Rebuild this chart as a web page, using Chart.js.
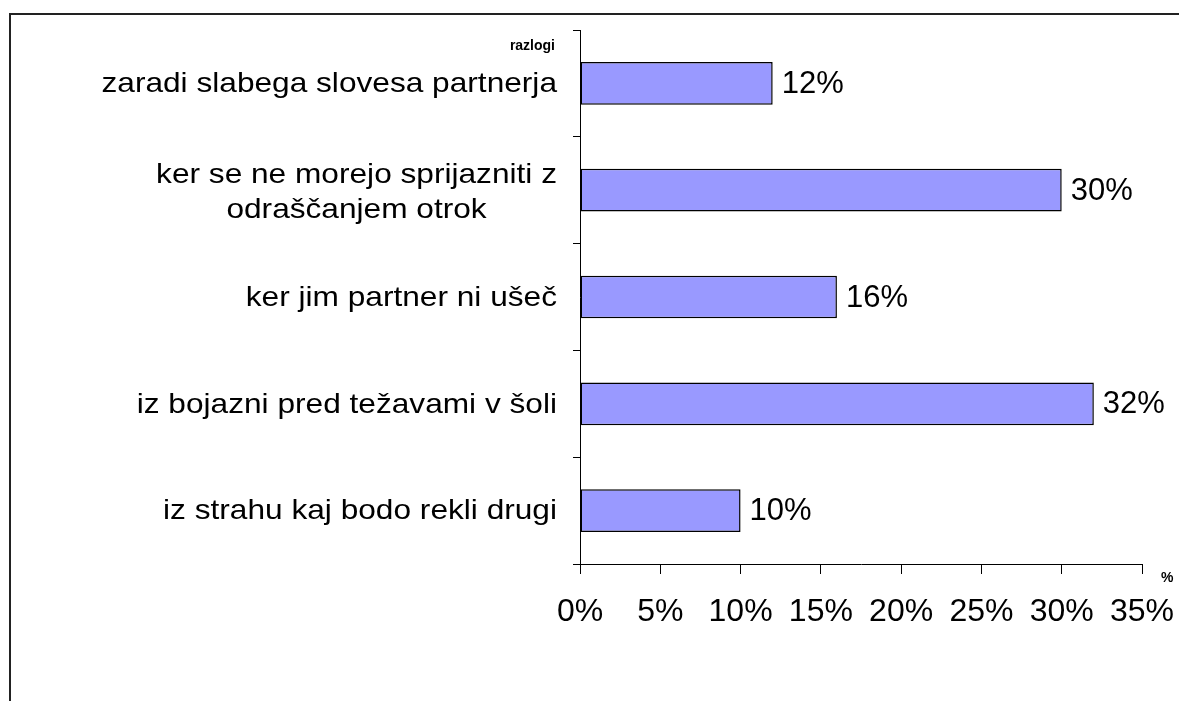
<!DOCTYPE html>
<html>
<head>
<meta charset="utf-8">
<script src="https://cdn.jsdelivr.net/npm/chart.js@4.4.0/dist/chart.umd.min.js"></script>
<style>
  html, body { margin: 0; padding: 0; background: #fff; }
  #wrap { width: 1179px; height: 701px; }
</style>
</head>
<body>
<div id="wrap"><canvas id="myChart" width="1179" height="701"></canvas></div>
<script>
const razlogi = [
    ["zaradi slabega slovesa partnerja"],
    ["ker se ne morejo sprijazniti z", "odraščanjem otrok"],
    ["ker jim partner ni ušeč"],
    ["iz bojazni pred težavami v šoli"],
    ["iz strahu kaj bodo rekli drugi"]
];
const odstotki = [12, 30, 16, 32, 10];
const xTicks = [0, 5, 10, 15, 20, 25, 30, 35];

const FONT = "Arial, 'Liberation Sans', sans-serif";

// frame, category labels, value labels, axis titles
const extras = {
    id: 'extras',
    beforeDraw: (chart) => {
        const {ctx} = chart;
        ctx.save();
        ctx.fillStyle = '#fff';
        ctx.fillRect(0, 0, chart.width, chart.height);
        ctx.strokeStyle = '#222';
        ctx.lineWidth = 2;
        ctx.beginPath();
        ctx.moveTo(10, chart.height + 5);
        ctx.lineTo(10, 14);
        ctx.lineTo(chart.width + 5, 14);
        ctx.stroke();
        ctx.restore();
    },
    afterDraw: (chart) => {
        const {ctx} = chart;
        const yScale = chart.scales.y;
        const xScale = chart.scales.x;
        ctx.save();
        ctx.fillStyle = '#000';
        ctx.textBaseline = 'middle';

        // category labels: block right aligned, lines centred in block
        ctx.font = '28px ' + FONT;
        const sx = 1.13;
        const right = 557;
        const lineH = 35;
        razlogi.forEach((lines, i) => {
            const cy = yScale.getPixelForValue(i);
            const maxW = Math.max(...lines.map(l => ctx.measureText(l).width)) * sx;
            const cx = right - maxW / 2;
            lines.forEach((l, j) => {
                const y = cy + (j - (lines.length - 1) / 2) * lineH + (lines.length > 1 ? 3 : 1);
                ctx.save();
                ctx.translate(cx, y);
                ctx.scale(sx, 1);
                ctx.textAlign = 'center';
                ctx.fillText(l, 0, 0);
                ctx.restore();
            });
        });

        // value labels
        ctx.font = '31px ' + FONT;
        const meta = chart.getDatasetMeta(0);
        ctx.textAlign = 'left';
        meta.data.forEach((bar, i) => {
            ctx.fillText(odstotki[i] + '%', bar.x + 9, bar.y + 1);
        });

        // axis titles
        ctx.font = 'bold 14px ' + FONT;
        ctx.textAlign = 'right';
        ctx.fillText('razlogi', 555, 46);
        ctx.textAlign = 'left';
        ctx.fillText('%', xScale.right + 19, 578);
        ctx.restore();
    }
};

new Chart("myChart", {
    type: "bar",
    data: {
        labels: razlogi.map(l => l.join(' ')),
        datasets: [{
            data: odstotki,
            backgroundColor: "#9999FF",
            borderColor: "#000",
            borderWidth: 1.5,
            borderSkipped: false,
            barPercentage: 0.8,
            categoryPercentage: 0.5
        }]
    },
    options: {
        indexAxis: 'y',
        responsive: false,
        animation: false,
        layout: { padding: { left: 0, top: 30, right: 37, bottom: 0 } },
        plugins: {
            legend: { display: false },
            tooltip: { enabled: false }
        },
        scales: {
            x: {
                min: 0,
                max: 35,
                afterBuildTicks: (scale) => { scale.ticks = xTicks.map(v => ({value: v})); },
                afterFit: (scale) => {
                    scale.height = 701 - 564;
                    scale.paddingLeft = 0;
                    scale.paddingRight = 0;
                },
                grid: {
                    drawOnChartArea: false,
                    drawTicks: true,
                    tickLength: 10,
                    color: '#000',
                    lineWidth: 1
                },
                border: { display: true, color: '#000', width: 1 },
                ticks: {
                    color: '#000',
                    font: { family: FONT, size: 32 },
                    padding: 19,
                    maxRotation: 0,
                    autoSkip: false,
                    callback: (v) => v + '%'
                }
            },
            y: {
                offset: true,
                afterFit: (scale) => { scale.width = 580; },
                grid: {
                    offset: true,
                    drawOnChartArea: false,
                    drawTicks: true,
                    tickLength: 7,
                    color: '#000',
                    lineWidth: 1
                },
                border: { display: true, color: '#000', width: 1 },
                ticks: { display: false }
            }
        }
    },
    plugins: [extras]
});
</script>
</body>
</html>
